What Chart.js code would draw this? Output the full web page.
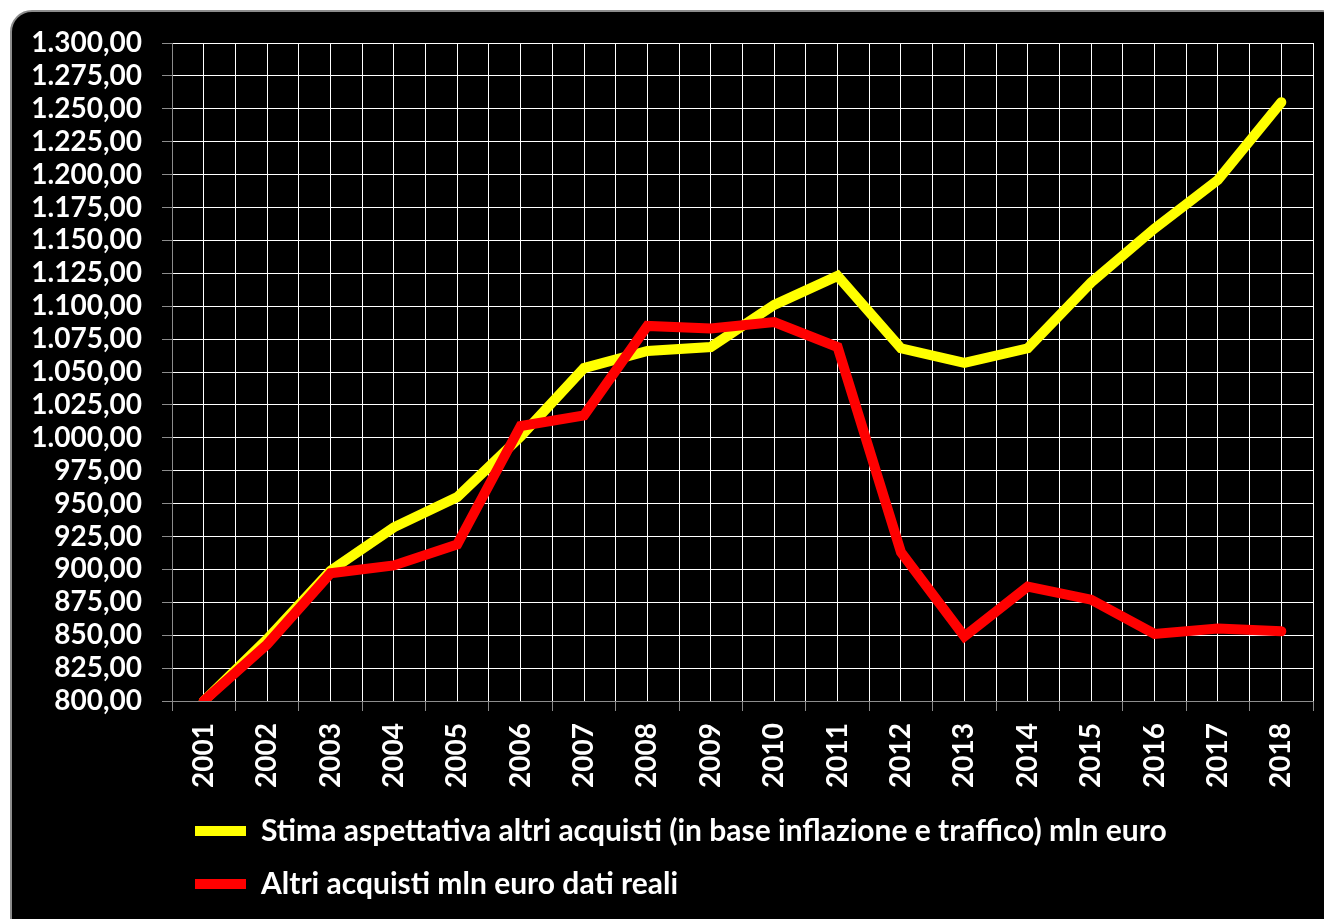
<!DOCTYPE html>
<html lang="it">
<head>
<meta charset="utf-8">
<title>Altri acquisti mln euro</title>
<script src="https://cdn.jsdelivr.net/npm/chart.js@4.4.1/dist/chart.umd.min.js"></script>
<style>
  html, body { margin: 0; padding: 0; background: #fff; overflow: hidden; }
  .frame {
    position: absolute; left: 10px; top: 10px; width: 1330px; height: 930px;
    background: #000; border: 2px solid #8c8c8c; border-radius: 22px;
  }
  .chart-box { position: absolute; left: 0; top: 0; width: 1324px; height: 919px; }
</style>
</head>
<body>
<div class="frame"></div>
<div class="chart-box"><canvas id="acquistiChart"></canvas></div>
<script>
// ── DATI ─────────────────────────────────────
const ANNI = ['2001','2002','2003','2004','2005','2006','2007','2008','2009',
              '2010','2011','2012','2013','2014','2015','2016','2017','2018'];

// stima aspettativa (inflazione + traffico), mln euro
const STIMA = [800, 847, 899, 932, 955, 1001, 1053, 1066, 1069,
               1101, 1123, 1068, 1057, 1068, 1118, 1159, 1196, 1255];

// dati reali, mln euro
const REALI = [800, 843, 897, 903, 919, 1009, 1017, 1085, 1083,
               1088, 1069, 913, 849, 887, 877, 851, 855, 853];

const Y_MIN  = 800;
const Y_MAX  = 1300;
const Y_STEP = 25;

const FONT_TICK   = { family: "Lato, 'Open Sans', sans-serif", weight: 'bold', size: 28 };
const FONT_LEGEND = { family: "Lato, 'Open Sans', sans-serif", weight: 'bold', size: 30 };

// 1300 -> "1.300,00"
function formatEuro(v) {
  const [int, dec] = v.toFixed(2).split('.');
  return int.replace(/\B(?=(\d{3})+(?!\d))/g, '.') + ',' + dec;
}

const toPoints = arr => arr.map((v, i) => ({ x: i, y: v }));

// ── GRAFICO ──────────────────────────────────
new Chart(document.getElementById('acquistiChart'), {
  type: 'line',
  data: {
    datasets: [
      {
        label: 'Stima aspettativa altri acquisti (in base inflazione e traffico) mln euro',
        data: toPoints(STIMA),
        borderColor: '#ffff00',
        backgroundColor: '#ffff00',
        borderWidth: 10,
        borderCapStyle: 'round',
        pointRadius: 0,
        tension: 0,
        clip: 0,
        order: 1
      },
      {
        label: 'Altri acquisti mln euro dati reali',
        data: toPoints(REALI),
        borderColor: '#ff0000',
        backgroundColor: '#ff0000',
        borderWidth: 10,
        borderCapStyle: 'round',
        pointRadius: 0,
        tension: 0,
        clip: 0,
        order: 0
      }
    ]
  },
  options: {
    responsive: true,
    maintainAspectRatio: false,
    animation: false,
    layout: { padding: { top: 43, right: 11, bottom: 10, left: 0 } },
    plugins: {
      tooltip: { enabled: false },
      legend: {
        position: 'bottom',
        align: 'start',
        fullSize: false,
        labels: {
          color: '#ffffff',
          font: FONT_LEGEND,
          usePointStyle: true,
          pointStyle: 'line',
          pointStyleWidth: 51,
          padding: 23,
          sort: (a, b) => a.datasetIndex - b.datasetIndex
        }
      }
    },
    scales: {
      x: {
        type: 'linear',
        min: -0.5,
        max: ANNI.length - 0.5,
        // altezza fissa, niente margine laterale per le etichette ruotate
        afterFit: s => { s.height = 92; s.paddingLeft = 0; s.paddingRight = 0; },
        ticks: {
          stepSize: 0.5,
          autoSkip: false,
          minRotation: 90,
          maxRotation: 90,
          padding: 12,
          color: '#ffffff',
          font: FONT_TICK,
          callback: v => Number.isInteger(v) ? ANNI[v] : ''
        },
        grid: {
          color: '#ffffff',
          lineWidth: 1,
          tickLength: 10,
          tickColor: ctx => Number.isInteger(ctx.tick.value) ? 'rgba(0,0,0,0)' : '#8c8c8c'
        },
        border: { color: '#8c8c8c', width: 1 }
      },
      y: {
        min: Y_MIN,
        max: Y_MAX,
        afterFit: s => { s.width = 172; },
        ticks: {
          stepSize: Y_STEP,
          autoSkip: false,
          padding: 20,
          color: '#ffffff',
          font: FONT_TICK,
          callback: v => formatEuro(v)
        },
        grid: {
          color: '#ffffff',
          lineWidth: 1,
          tickLength: 10,
          tickColor: '#8c8c8c'
        },
        border: { color: '#8c8c8c', width: 1 }
      }
    }
  }
});
</script>
</body>
</html>
